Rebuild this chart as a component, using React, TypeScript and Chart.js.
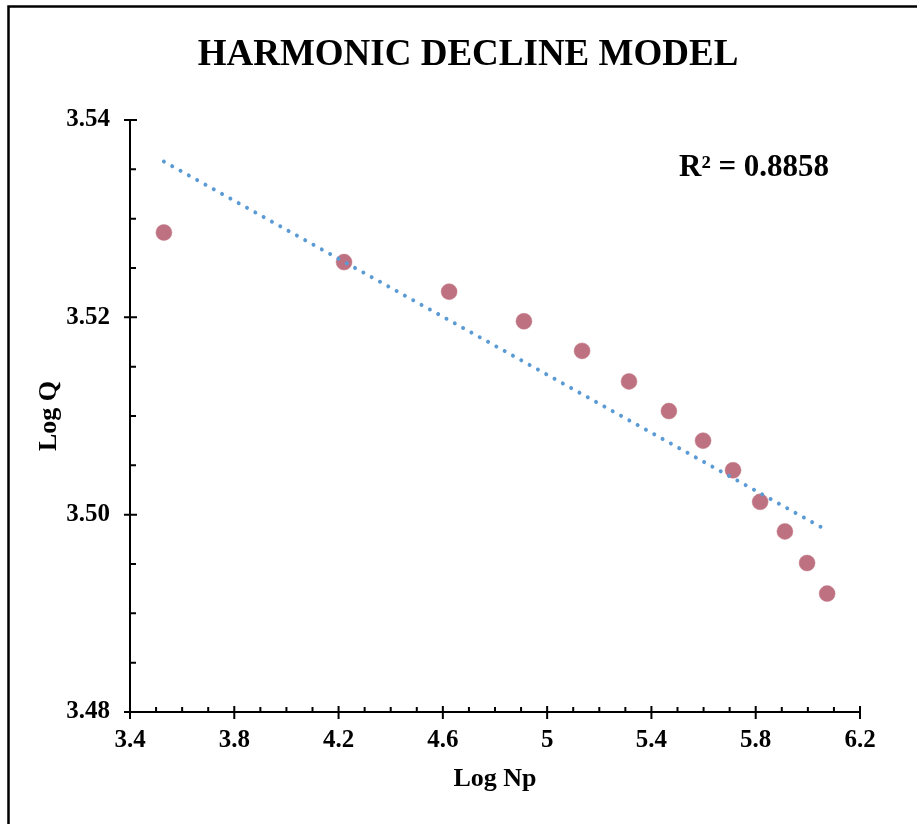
import React, { useEffect, useRef } from "react";
import { Chart, registerables } from "chart.js";

Chart.register(...registerables);

const logNp = [3.530, 4.221, 4.624, 4.911, 5.134, 5.314, 5.467, 5.598, 5.713, 5.817, 5.912, 5.997, 6.074];
const logQ = [3.5286, 3.5256, 3.5226, 3.5196, 3.5166, 3.5135, 3.5105, 3.5075, 3.5045, 3.5013, 3.4983, 3.4951, 3.4920];
const xTicks = [3.4, 3.8, 4.2, 4.6, 5.0, 5.4, 5.8, 6.2];
const yTicks = [3.48, 3.50, 3.52, 3.54];
const titleText = "HARMONIC DECLINE MODEL";
const xTitle = "Log Np";
const yTitle = "Log Q";
const r2Text = "R² = 0.8858";

const FONT = "'Liberation Serif', 'Times New Roman', serif";

function regression(xs: number[], ys: number[]) {
  const n = xs.length;
  const mx = xs.reduce((a, b) => a + b, 0) / n;
  const my = ys.reduce((a, b) => a + b, 0) / n;
  let sxy = 0, sxx = 0;
  for (let i = 0; i < n; i++) {
    sxy += (xs[i] - mx) * (ys[i] - my);
    sxx += (xs[i] - mx) * (xs[i] - mx);
  }
  const slope = sxy / sxx;
  return { slope, intercept: my - slope * mx };
}

function minorBetween(ticks: number[], parts: number) {
  const out: number[] = [];
  for (let i = 0; i < ticks.length - 1; i++) {
    const step = (ticks[i + 1] - ticks[i]) / parts;
    for (let k = 1; k < parts; k++) out.push(ticks[i] + step * k);
  }
  return out;
}

const decorPlugin = {
  id: "decor",
  afterDraw(chart: any) {
    const ctx = chart.ctx as CanvasRenderingContext2D;
    const area = chart.chartArea;
    const xs = chart.scales.x;
    const ys = chart.scales.y;
    ctx.save();
    // outer frame
    ctx.strokeStyle = "#000";
    ctx.lineWidth = 2.5;
    ctx.strokeRect(8.5, 6.5, chart.width + 40, chart.height + 40);

    // tick marks
    ctx.lineWidth = 2;
    ctx.beginPath();
    const xAxisY = area.bottom;
    for (const v of xTicks) {
      const px = xs.getPixelForValue(v);
      ctx.moveTo(px, xAxisY - 6);
      ctx.lineTo(px, xAxisY + 7);
    }
    for (const v of minorBetween(xTicks, 4)) {
      const px = xs.getPixelForValue(v);
      ctx.moveTo(px, xAxisY - 5);
      ctx.lineTo(px, xAxisY);
    }
    const yAxisX = area.left;
    for (const v of yTicks) {
      const py = ys.getPixelForValue(v);
      ctx.moveTo(yAxisX - 6, py);
      ctx.lineTo(yAxisX + 7, py);
    }
    for (const v of minorBetween(yTicks, 4)) {
      const py = ys.getPixelForValue(v);
      ctx.moveTo(yAxisX, py);
      ctx.lineTo(yAxisX + 6, py);
    }
    ctx.stroke();

    ctx.fillStyle = "#000";
    ctx.textBaseline = "alphabetic";
    // title
    ctx.font = `bold 37px ${FONT}`;
    ctx.textAlign = "center";
    ctx.fillText(titleText, 468, 65);
    // R2
    ctx.font = `bold 31px ${FONT}`;
    ctx.textAlign = "left";
    ctx.fillText(r2Text, 679, 176);
    // axis titles
    ctx.font = `bold 26px ${FONT}`;
    ctx.textAlign = "center";
    ctx.fillText(xTitle, (area.left + area.right) / 2, 786);
    ctx.translate(56, (area.top + area.bottom) / 2);
    ctx.rotate(-Math.PI / 2);
    ctx.fillText(yTitle, 0, 0);
    ctx.restore();
  },
};

export default function App() {
  const ref = useRef<HTMLCanvasElement>(null);
  useEffect(() => {
    if (!ref.current) return;
    const { slope, intercept } = regression(logNp, logQ);
    const xmin = Math.min(...logNp);
    const xmax = Math.max(...logNp);
    const trend = [
      { x: xmin, y: intercept + slope * xmin },
      { x: xmax, y: intercept + slope * xmax },
    ];
    const points = logNp.map((x, i) => ({ x, y: logQ[i] }));
    const chart = new Chart(ref.current, {
      type: "scatter",
      data: {
        datasets: [
          {
            label: "Trend",
            data: trend,
            showLine: true,
            borderColor: "#5B9BD5",
            borderWidth: 4,
            borderDash: [0.01, 9.5],
            borderCapStyle: "round",
            pointRadius: 0,
            fill: false,
          } as any,
          {
            label: "Data",
            data: points,
            pointRadius: 8,
            pointHoverRadius: 8,
            backgroundColor: "#BE7180",
            borderColor: "#C47C8A",
            borderWidth: 0.5,
          },
        ],
      },
      plugins: [decorPlugin],
      options: {
        animation: false,
        responsive: true,
        maintainAspectRatio: false,
        layout: { padding: { top: 120, right: 57, left: 0, bottom: 0 } },
        plugins: {
          legend: { display: false },
          tooltip: { enabled: false },
          title: { display: false },
        },
        scales: {
          x: {
            type: "linear",
            min: 3.4,
            max: 6.2,
            afterBuildTicks: (s: any) => {
              s.ticks = xTicks.map((v) => ({ value: v }));
            },
            afterFit: (s: any) => {
              s.height = 112;
            },
            ticks: {
              color: "#000",
              padding: 14,
              font: { family: FONT, size: 25, weight: "bold" },
              callback: (v: any) => String(Number(Number(v).toFixed(1))),
            },
            grid: { display: false, drawTicks: false },
            border: { display: true, color: "#000", width: 2 },
          },
          y: {
            type: "linear",
            min: 3.48,
            max: 3.54,
            afterBuildTicks: (s: any) => {
              s.ticks = yTicks.map((v) => ({ value: v }));
            },
            afterFit: (s: any) => {
              s.width = 130;
            },
            ticks: {
              color: "#000",
              padding: 20,
              font: { family: FONT, size: 25, weight: "bold" },
              callback: (v: any) => Number(v).toFixed(2),
            },
            grid: { display: false, drawTicks: false },
            border: { display: true, color: "#000", width: 2 },
          },
        },
      },
    });
    return () => chart.destroy();
  }, []);
  return (
    <div style={{ position: "absolute", left: 0, top: 0, width: 917, height: 824, background: "#fff" }}>
      <canvas ref={ref} />
    </div>
  );
}
